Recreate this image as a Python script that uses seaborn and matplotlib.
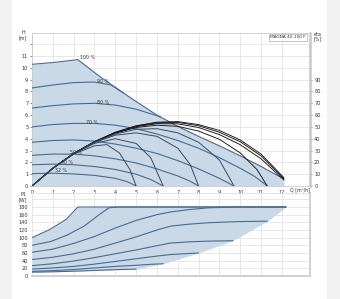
import numpy as np
import pandas as pd
import matplotlib
matplotlib.use("Agg")
import matplotlib.pyplot as plt
import seaborn as sns
from matplotlib.patches import Rectangle

# ---------------- data ----------------
speed_labels = ["100 %", "90 %", "80 %", "70 %", "60 %", "50 %", "40 %", "32 %"]

# H-Q speed curves  (Q in m3/h, H in m)
q_s100 = [0, 1, 2, 2.2, 3.3, 4.25, 5, 6, 7, 8, 9, 10, 11, 12.1]
h_s100 = [10.3, 10.45, 10.65, 10.7, 9.2, 8.05, 7.15, 6.0, 5.05, 4.2, 3.4, 2.55, 1.65, 0.6]
q_s90 = [0, 1, 2, 3, 3.8, 4.4]
h_s90 = [8.3, 8.55, 8.75, 8.8, 8.55, 7.85]
q_s80 = [0, 1, 2, 3, 4, 5, 6, 6.2]
h_s80 = [6.6, 6.8, 6.95, 7.0, 6.85, 6.5, 5.95, 5.8]
q_s70 = [0, 1, 2, 3, 4, 5, 6, 7, 8, 9, 10, 10.7, 11.3]
h_s70 = [5.0, 5.2, 5.3, 5.3, 5.15, 4.85, 4.4, 3.85, 3.2, 2.4, 1.5, 0.8, 0.0]
q_s60 = [0, 1, 2, 3, 4, 5, 6, 7, 8, 9, 9.7]
h_s60 = [3.7, 3.85, 3.9, 3.8, 3.55, 3.2, 2.75, 2.15, 1.45, 0.65, 0.0]
q_s50 = [0, 1, 2, 3, 4, 5, 6, 7, 7.6, 8.0]
h_s50 = [2.6, 2.7, 2.7, 2.55, 2.3, 1.95, 1.45, 0.85, 0.4, 0.0]
q_s40 = [0, 1, 2, 3, 4, 5, 5.7, 6.3]
h_s40 = [1.8, 1.85, 1.8, 1.65, 1.4, 1.0, 0.55, 0.0]
q_s32 = [0, 1, 2, 3, 4, 4.6, 5.0]
h_s32 = [1.05, 1.08, 1.02, 0.9, 0.65, 0.35, 0.0]

# efficiency curves (eta in %)
q_e100 = [0, 1, 2, 3, 4, 5, 6, 7, 8, 9, 10, 11, 12.1]
e_e100 = [0, 15, 27.5, 37.5, 45.5, 51, 54, 54.5, 52, 47, 39, 27, 7]
q_e90 = [0, 1, 2, 3, 4, 5, 6, 7, 8, 9, 10, 11, 12.1]
e_e90 = [0, 15, 27.5, 37.5, 45.3, 50.7, 53.5, 53.8, 51, 45.5, 37.5, 25.5, 6]
q_e80 = [0, 1, 2, 3, 4, 5, 6, 7, 8, 9, 10, 11, 12.1]
e_e80 = [0, 15, 27.5, 37.4, 45, 50.2, 52.8, 52.6, 49.5, 43.5, 35, 23, 5]
q_e70 = [0, 1, 2, 3, 4, 5, 6, 7, 8, 9, 10, 10.8, 11.3]
e_e70 = [0, 15, 27.5, 37.3, 44.7, 49.5, 51.5, 50.5, 46.5, 39.5, 28, 14, 0]
q_e60 = [0, 1, 2, 3, 4, 5, 6, 7, 8, 9, 9.7]
e_e60 = [0, 15, 27.4, 37.2, 44, 48, 48.5, 45, 37, 22, 0]
q_e50 = [0, 1, 2, 3, 4, 5, 6, 7, 7.6, 8.0]
e_e50 = [0, 15, 27.3, 36.8, 43, 45, 42, 32, 18, 0]
q_e40 = [0, 1, 2, 3, 4, 5, 5.7, 6.3]
e_e40 = [0, 15, 27.2, 36, 40, 36, 24, 0]
q_e32 = [0, 1, 2, 3, 3.6, 4.2, 4.7, 5.0]
e_e32 = [0, 15, 27, 34, 35, 28, 14, 0]

# P1 power curves (W)
q_p100 = [0, 0.85, 1.65, 2.2, 12.2]
p_p100 = [100, 121, 148, 180, 180]
q_p90 = [0, 0.9, 1.7, 2.5, 3.3, 3.7, 4.2, 12.2]
p_p90 = [80, 90, 107, 130, 163, 178, 180, 180]
q_p80 = [0, 1, 2, 3, 4, 5, 6, 6.65, 7.5, 8.5, 10, 12.2]
p_p80 = [62, 70, 85, 103, 125, 145, 160, 167, 173, 178, 180, 180]
q_p70 = [0, 1, 2, 3, 4, 5, 6, 6.65, 7.5, 8.5, 10, 11.3]
p_p70 = [43, 49, 58, 70, 86, 102, 120, 130, 135, 139, 142, 143]
q_p60 = [0, 1, 2, 3, 4, 5, 6, 6.65, 7.5, 8.5, 9.65]
p_p60 = [27, 32, 39, 48, 58, 68, 79, 86, 89, 91, 92]
q_p50 = [0, 1, 2, 3, 4, 5, 6, 6.65, 7.3, 8.0]
p_p50 = [18, 21, 25, 31, 38, 45, 52, 56, 58, 60]
q_p40 = [0, 1, 2, 3, 4, 5, 5.7, 6.3]
p_p40 = [12, 14, 17, 21, 25, 28, 30.5, 32]
q_p32 = [0, 1, 2, 3, 4, 5.0]
p_p32 = [10, 11, 12.5, 14.5, 16.5, 18]

h_ticks = list(range(0, 13))
q_ticks = list(range(0, 13))
eta_ticks = list(range(0, 100, 10))
p_ticks = list(range(0, 201, 20))

# ---------------- assemble ----------------
speed_q = [q_s100, q_s90, q_s80, q_s70, q_s60, q_s50, q_s40, q_s32]
speed_h = [h_s100, h_s90, h_s80, h_s70, h_s60, h_s50, h_s40, h_s32]
eta_q = [q_e100, q_e90, q_e80, q_e70, q_e60, q_e50, q_e40, q_e32]
eta_v = [e_e100, e_e90, e_e80, e_e70, e_e60, e_e50, e_e40, e_e32]
pow_q = [q_p100, q_p90, q_p80, q_p70, q_p60, q_p50, q_p40, q_p32]
pow_v = [p_p100, p_p90, p_p80, p_p70, p_p60, p_p50, p_p40, p_p32]

def long_df(qs, vs):
    rows = []
    for lab, q, v in zip(speed_labels, qs, vs):
        for i, (a, b) in enumerate(zip(q, v)):
            rows.append({"curve": lab, "Q": a, "val": b, "i": i})
    return pd.DataFrame(rows)

df_h = long_df(speed_q, speed_h)
df_e = long_df(eta_q, eta_v)
df_p = long_df(pow_q, pow_v)

LINE = "#4a6a8c"
ETA_HI = "#151515"
ETA_LO = "#2e405a"
FILL = "#cad9e8"
GRID = "#dedede"
TXT = "#333333"

sns.set_theme(style="white")
plt.rcParams["font.family"] = ["DejaVu Sans"]

fig = plt.figure(figsize=(3.4, 2.99), dpi=100)
fig.patch.set_facecolor("white")
fig.patches.append(Rectangle((0, 0), 12 / 340, 1, transform=fig.transFigure,
                             facecolor="#f1f1f1", edgecolor="none", zorder=0))
fig.patches.append(Rectangle((327 / 340, 0), 13 / 340, 1, transform=fig.transFigure,
                             facecolor="#f1f1f1", edgecolor="none", zorder=0))

ax = fig.add_axes([32 / 340, 1 - 186 / 299, 278 / 340, 153 / 299])
axp = fig.add_axes([32 / 340, 1 - 276 / 299, 278 / 340, 83 / 299])

# ---- top chart ----
ax.set_xlim(0, 13.35)
ax.set_ylim(0, 12.95)
grid_q = np.linspace(0, q_s100[-1], 300)
ax.fill_between(grid_q, 0, np.interp(grid_q, q_s100, h_s100), color=FILL, lw=0, zorder=1)
sns.lineplot(data=df_h, x="Q", y="val", hue="curve", units="curve", estimator=None,
             sort=False, palette={k: LINE for k in speed_labels}, legend=False,
             lw=0.8, ax=ax, zorder=3)
ax.set_xticks(q_ticks)
ax.set_yticks(h_ticks)
ax.set_yticklabels([str(t) if t < 12 else "" for t in h_ticks])
ax.grid(True, color=GRID, lw=0.5, zorder=0)
ax.set_axisbelow(True)
ax.set_xlabel("")
ax.set_ylabel("")
ax.tick_params(axis="both", labelsize=3.6, colors=TXT, length=1.2, width=0.4, pad=1.5)
for s in ["left", "top", "bottom"]:
    ax.spines[s].set_color("#c4c4c4")
    ax.spines[s].set_linewidth(0.5)
ax.spines["right"].set_visible(False)

ax2 = ax.twinx()
ax2.set_ylim(0, 129.5)
eta_pal = {k: (ETA_HI if i < 4 else ETA_LO) for i, k in enumerate(speed_labels)}
sns.lineplot(data=df_e, x="Q", y="val", hue="curve", units="curve", estimator=None,
             sort=False, palette=eta_pal, legend=False,
             lw=0.65, ax=ax2, zorder=4)
ax2.set_yticks(eta_ticks)
ax2.set_ylabel("")
ax2.grid(False)
ax2.tick_params(axis="y", labelsize=3.6, colors=TXT, length=1.5, width=0.4, pad=1.5)
for s in ["left", "top", "bottom"]:
    ax2.spines[s].set_visible(False)
ax2.spines["right"].set_color("#c8c8c8")
ax2.spines["right"].set_linewidth(1.8)

label_pos = {"100 %": (2.65, 10.85), "90 %": (3.4, 8.85), "80 %": (3.4, 7.05),
             "70 %": (2.9, 5.4), "50 %": (2.1, 2.8), "40 %": (1.7, 1.95), "32 %": (1.4, 1.27)}
for lab, (x, y) in label_pos.items():
    ax.text(x, y, lab, fontsize=3.4, color=TXT, ha="center", va="center", zorder=5)

fig.text(23 / 340, 1 - 33 / 299, "H", fontsize=3.4, color=TXT, ha="center", va="center")
fig.text(23 / 340, 1 - 38 / 299, "[m]", fontsize=3.4, color=TXT, ha="center", va="center")
fig.text(318 / 340, 1 - 34 / 299, "eta", fontsize=3.4, color=TXT, ha="center", va="center")
fig.text(318 / 340, 1 - 38.5 / 299, "[%]", fontsize=3.4, color=TXT, ha="center", va="center")
fig.text(300 / 340, 1 - 190 / 299, "Q [m³/h]", fontsize=3.4, color=TXT, ha="center", va="center")
ax.text(0.985, 0.985, "MAGNA 40-100 F", transform=ax.transAxes, fontsize=3.1, color=TXT,
        ha="right", va="top", zorder=6,
        bbox=dict(boxstyle="square,pad=0.3", fc="white", ec="#9a9a9a", lw=0.4))

# ---- lower chart ----
axp.set_xlim(0, 13.35)
axp.set_ylim(0, 216.5)
upper = np.interp(grid_q, q_p100, p_p100)
low_q = q_p32 + [q[-1] for q in [q_p40, q_p50, q_p60, q_p70]] + [q_p100[-1]]
low_v = p_p32 + [v[-1] for v in [p_p40, p_p50, p_p60, p_p70]] + [p_p100[-1]]
lower = np.interp(grid_q, low_q, low_v)
axp.fill_between(grid_q, lower, upper, color=FILL, lw=0, zorder=1)
sns.lineplot(data=df_p, x="Q", y="val", hue="curve", units="curve", estimator=None,
             sort=False, palette={k: LINE for k in speed_labels}, legend=False,
             lw=0.8, ax=axp, zorder=3)
axp.set_xticks(q_ticks)
axp.set_xticklabels([])
axp.set_yticks(p_ticks)
axp.set_yticklabels([str(t) if t < 200 else "" for t in p_ticks])
axp.grid(True, color=GRID, lw=0.5, zorder=0)
axp.set_axisbelow(True)
axp.set_xlabel("")
axp.set_ylabel("")
axp.tick_params(axis="y", labelsize=3.6, colors=TXT, length=1.2, width=0.4, pad=1.5)
axp.tick_params(axis="x", length=0)
axp.spines["left"].set_visible(False)
axp.spines["top"].set_color("#d8d8d8")
axp.spines["top"].set_linewidth(0.5)
for s in ["right", "bottom"]:
    axp.spines[s].set_color("#d0d0d0")
    axp.spines[s].set_linewidth(1.4)

fig.text(23 / 340, 1 - 195 / 299, "P1", fontsize=3.4, color=TXT, ha="center", va="center")
fig.text(23 / 340, 1 - 199.5 / 299, "[W]", fontsize=3.4, color=TXT, ha="center", va="center")

fig.savefig("out.png", dpi=100, facecolor=fig.get_facecolor())
